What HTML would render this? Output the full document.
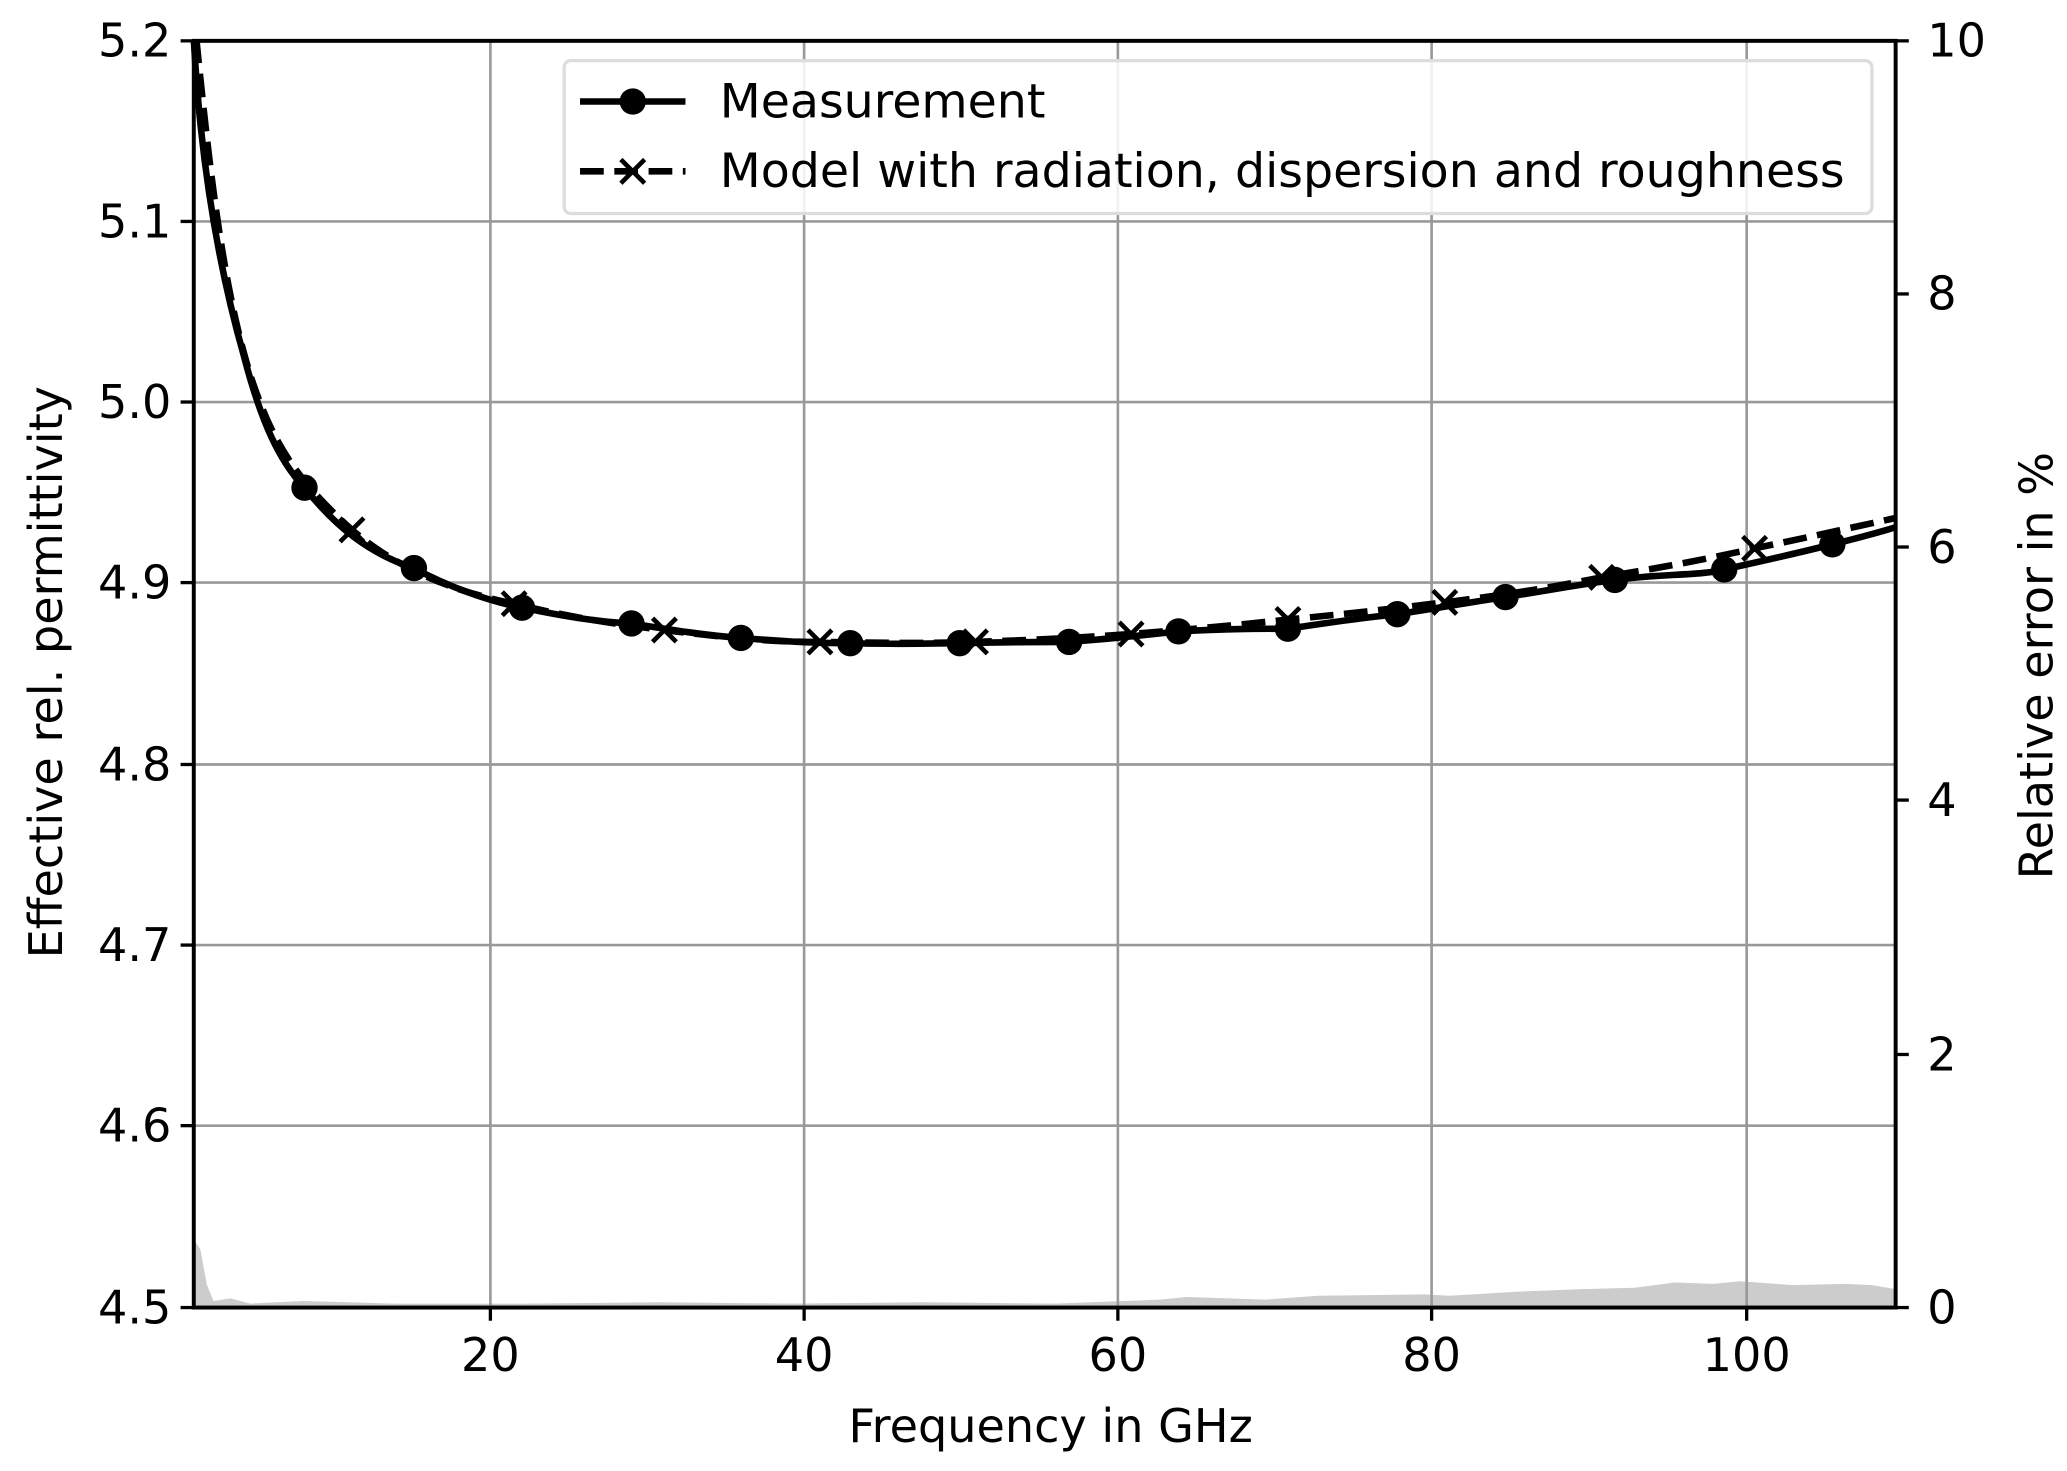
<!DOCTYPE html>
<html><head><style>html,body{margin:0;padding:0;background:#fff}svg{display:block}</style></head>
<body>
<svg width="2067" height="1471" viewBox="0 0 1568 1116" preserveAspectRatio="none" xmlns="http://www.w3.org/2000/svg" font-family="DejaVu Sans, Liberation Sans, sans-serif">
<rect width="1568" height="1116" fill="#fff"/>
<path d="M147,992 L147,940 L152,948 L157,975 L162,987 L175,985 L190,989 L230,987 L300,989 L400,989 L500,988 L600,989 L700,988 L800,989 L880,986 L900,984 L960,986 L1000,983 L1080,982 L1100,983 L1150,980 L1200,978 L1240,977 L1270,973 L1300,974 L1320,972 L1360,975 L1400,974 L1420,975 L1438,978 L1438,992 Z" fill="#cccccc"/>
<g stroke="#999" stroke-width="2">
<line x1="372" y1="31" x2="372" y2="992"/><line x1="610" y1="31" x2="610" y2="992"/><line x1="848" y1="31" x2="848" y2="992"/><line x1="1086" y1="31" x2="1086" y2="992"/><line x1="1325" y1="31" x2="1325" y2="992"/>
<line x1="147" y1="168" x2="1438" y2="168"/><line x1="147" y1="305" x2="1438" y2="305"/><line x1="147" y1="442" x2="1438" y2="442"/><line x1="147" y1="580" x2="1438" y2="580"/><line x1="147" y1="717" x2="1438" y2="717"/><line x1="147" y1="854" x2="1438" y2="854"/>
</g>
<path d="M149,30 C160,140 170,220 190,285 C205,330 220,360 267,402 C300,430 340,448 390,458 C430,468 470,474 504,478 C560,485 590,487 622,487 C680,488 710,488 740,487 C800,485 830,483 858,481 C920,476 950,473 977,470 C1040,464 1070,460 1096,457 C1160,449 1190,443 1215,438 C1270,429 1300,423 1331,416 C1380,406 1410,399 1438,393" fill="none" stroke="#000" stroke-width="5" stroke-dasharray="18,8"/>
<path d="M147,30 C152,120 165,200 185,270 C198,320 212,350 231,370 C255,400 280,420 314,431 C340,445 370,456 396,461 C430,468 455,472 479,473 C510,478 535,482 562,484 C600,487 620,488 645,488 C690,489 710,488 728,488 C770,487 790,487 811,487 C850,484 875,481 894,479 C930,477 955,477 977,477 C1010,472 1040,468 1060,466 C1100,460 1120,456 1142,453 C1180,447 1200,443 1225,440 C1260,435 1290,437 1308,432 C1340,425 1370,418 1390,413 C1410,408 1425,404 1438,400" fill="none" stroke="#000" stroke-width="5"/>
<g fill="#000">
<circle cx="231" cy="370" r="10"/><circle cx="314" cy="431" r="10"/><circle cx="396" cy="461" r="10"/><circle cx="479" cy="473" r="10"/><circle cx="562" cy="484" r="10"/><circle cx="645" cy="488" r="10"/><circle cx="728" cy="488" r="10"/><circle cx="811" cy="487" r="10"/><circle cx="894" cy="479" r="10"/><circle cx="977" cy="477" r="10"/><circle cx="1060" cy="466" r="10"/><circle cx="1142" cy="453" r="10"/><circle cx="1225" cy="440" r="10"/><circle cx="1308" cy="432" r="10"/><circle cx="1390" cy="413" r="10"/>
</g>
<g stroke="#000" stroke-width="3.5">
<path d="M258,393l18,18M276,393l-18,18"/><path d="M381,449l18,18M399,449l-18,18"/><path d="M495,469l18,18M513,469l-18,18"/><path d="M613,478l18,18M631,478l-18,18"/><path d="M731,478l18,18M749,478l-18,18"/><path d="M849,472l18,18M867,472l-18,18"/><path d="M968,461l18,18M986,461l-18,18"/><path d="M1087,448l18,18M1105,448l-18,18"/><path d="M1206,429l18,18M1224,429l-18,18"/><path d="M1322,407l18,18M1340,407l-18,18"/>
</g>
<rect x="147" y="31" width="1291" height="961" fill="none" stroke="#000" stroke-width="3"/>
<g stroke="#000" stroke-width="2.5">
<line x1="372" y1="992" x2="372" y2="1002"/><line x1="610" y1="992" x2="610" y2="1002"/><line x1="848" y1="992" x2="848" y2="1002"/><line x1="1086" y1="992" x2="1086" y2="1002"/><line x1="1325" y1="992" x2="1325" y2="1002"/>
<line x1="137" y1="31" x2="147" y2="31"/><line x1="137" y1="168" x2="147" y2="168"/><line x1="137" y1="305" x2="147" y2="305"/><line x1="137" y1="442" x2="147" y2="442"/><line x1="137" y1="580" x2="147" y2="580"/><line x1="137" y1="717" x2="147" y2="717"/><line x1="137" y1="854" x2="147" y2="854"/><line x1="137" y1="992" x2="147" y2="992"/>
<line x1="1438" y1="31" x2="1448" y2="31"/><line x1="1438" y1="223" x2="1448" y2="223"/><line x1="1438" y1="415" x2="1448" y2="415"/><line x1="1438" y1="607" x2="1448" y2="607"/><line x1="1438" y1="800" x2="1448" y2="800"/><line x1="1438" y1="992" x2="1448" y2="992"/>
</g>
<g font-size="35" fill="#000">
<g text-anchor="end">
<text x="130" y="43">5.2</text><text x="130" y="180">5.1</text><text x="130" y="317">5.0</text><text x="130" y="454">4.9</text><text x="130" y="592">4.8</text><text x="130" y="729">4.7</text><text x="130" y="866">4.6</text><text x="130" y="1004">4.5</text>
</g>
<g text-anchor="start">
<text x="1462" y="43">10</text><text x="1462" y="235">8</text><text x="1462" y="427">6</text><text x="1462" y="619">4</text><text x="1462" y="812">2</text><text x="1462" y="1004">0</text>
</g>
<g text-anchor="middle">
<text x="372" y="1040">20</text><text x="610" y="1040">40</text><text x="848" y="1040">60</text><text x="1086" y="1040">80</text><text x="1325" y="1040">100</text>
<text x="797" y="1094">Frequency in GHz</text>
<text transform="translate(47,510) rotate(-90)">Effective rel. permittivity</text>
<text transform="translate(1557,505) rotate(-90)">Relative error in %</text>
</g>
</g>
<rect x="428" y="46" width="992" height="116" rx="5" fill="#fff" fill-opacity="0.85" stroke="#ddd" stroke-width="2.5"/>
<line x1="440" y1="77" x2="520" y2="77" stroke="#000" stroke-width="5"/>
<circle cx="480" cy="77" r="10" fill="#000"/>
<line x1="440" y1="130" x2="520" y2="130" stroke="#000" stroke-width="5" stroke-dasharray="18,8"/>
<path d="M471,121l18,18M489,121l-18,18" stroke="#000" stroke-width="3.5"/>
<g font-size="36" fill="#000">
<text x="546" y="89">Measurement</text>
<text x="546" y="142">Model with radiation, dispersion and roughness</text>
</g>
</svg>
</body></html>
